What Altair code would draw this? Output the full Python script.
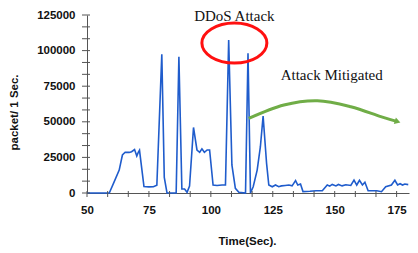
import altair as alt
import pandas as pd

# ---- main series (time in seconds, packets per second) ----
time_s = [50, 59, 61, 63, 64.3, 65.4, 67, 68, 69.2, 70.1, 70.7, 71.2, 73, 75, 76.8, 78.2,
          80.2, 81.2, 82.3, 86, 87.1, 88.3, 89.4, 90.4, 91.4, 93, 94.4, 95.5, 96.4, 97.4,
          98.5, 99.5, 100.9, 102.5, 104.5, 105.9, 107.2, 108.5, 109.9, 111.3, 114, 115,
          116, 117.1, 118.7, 120, 121.1, 122.5, 123.4, 124.8, 126.1, 127.4, 128.5, 130,
          131.5, 132.8, 134.2, 135.1, 136.2, 137.2, 140, 142.5, 145, 147, 148, 149, 150.5,
          151.5, 153, 154.5, 156.5, 157.8, 158.9, 160, 161.2, 162.2, 163.5, 167, 168.9,
          170.6, 172.9, 174.3, 175.4, 176.4, 177.4, 178.3, 179.7]
packets = [0, 0, 8000, 16100, 26700, 28600, 28500, 29000, 30500, 26000, 28500, 30000, 4500,
           4300, 4400, 5400, 97400, 11000, 0, 0, 95700, 2800, 2800, 500, 4900, 46000, 30200,
           28600, 31000, 28600, 30200, 30200, 5600, 5300, 5600, 5600, 107400, 19700, 3300,
           500, 0, 98100, 0, 4400, 16100, 32500, 54000, 20800, 5600, 4400, 5600, 4400, 5000,
           5300, 5600, 5000, 8700, 5600, 6300, 1000, 1200, 1600, 1600, 5600, 4800, 6000,
           5000, 6000, 5000, 5800, 5300, 9100, 5600, 8900, 5600, 7500, 1600, 1600, 900,
           4400, 5600, 8900, 5600, 6500, 5600, 6300, 5900]

# ---- axis ticks ----
x_ticks = [(150 + 25 * i) / 3 for i in range(16)]      # every 8.33 s, labels every 25
y_ticks = [25000 * i / 3 for i in range(16)]           # every 8333, labels every 25000

# ---- annotations (in data coordinates) ----
ann_text = ["DDoS Attack", "Attack Mitigated"]
ann_t = [109.5, 148.8]
ann_v = [121000, 79300]
ellipse_t = [109.5]
ellipse_v = [105300]
arrow_t = [115.3, 129.5, 143.0, 156.5, 168.6, 175.4]
arrow_v = [52400, 61800, 64800, 60600, 53600, 50100]

df = pd.DataFrame({"t": time_s, "v": packets})
df_txt = pd.DataFrame({"t": ann_t, "v": ann_v, "label": ann_text})
df_ell = pd.DataFrame({"t": ellipse_t, "v": ellipse_v})
df_arr = pd.DataFrame({"t": arrow_t, "v": arrow_v})
df_head = df_arr.tail(1)
df_xt = pd.DataFrame({"t": x_ticks})
df_yt = pd.DataFrame({"v": y_ticks})

FONT = "Liberation Sans"
H = 178

x_axis = alt.Axis(
    values=x_ticks, ticks=False,
    labelExpr="datum.value % 25 == 0 ? format(datum.value, 'd') : ''",
    title="Time(Sec).", titleFont=FONT, titleFontSize=11.5, titleFontWeight="bold",
    titleColor="#111", titleBaseline="alphabetic", titleX=160, titleY=51,
    labelFont=FONT, labelFontSize=11.5, labelFontWeight="bold", labelColor="#111",
    labelPadding=11, domainColor="#555", grid=False, labelFlush=False, labelOverlap=False,
)
y_axis = alt.Axis(
    values=y_ticks, ticks=False,
    labelExpr="datum.value % 25000 == 0 ? format(datum.value, 'd') : ''",
    title="packet/ 1 Sec.", titleFont=FONT, titleFontSize=11.5, titleFontWeight="bold",
    titleColor="#111", titleBaseline="alphabetic", titleAngle=270, titleAlign="center",
    titleX=-70, titleY=97,
    labelFont=FONT, labelFontSize=11.5, labelFontWeight="bold", labelColor="#111",
    labelPadding=12, domainColor="#555", grid=False, labelFlush=False, labelOverlap=False,
)

xs = alt.Scale(domain=[50, 180], nice=False, zero=False)
ys = alt.Scale(domain=[0, 125000], nice=False)

X = alt.X("t:Q", scale=xs, axis=x_axis)
Y = alt.Y("v:Q", scale=ys, axis=y_axis)

line = alt.Chart(df).mark_line(color="#1f5ccc", strokeWidth=1.6).encode(x=X, y=Y)

x_tick_marks = alt.Chart(df_xt).mark_rule(color="#555", strokeWidth=1).encode(
    x=X, y=alt.value(H - 2), y2=alt.value(H + 4)
)
y_tick_marks = alt.Chart(df_yt).mark_rule(color="#555", strokeWidth=1).encode(
    y=Y, x=alt.value(-5), x2=alt.value(3)
)

ellipse = alt.Chart(df_ell).mark_point(
    shape="M -1 0 A 1 0.615 0 1 1 1 0 A 1 0.615 0 1 1 -1 0 Z",
    size=4225, filled=False, stroke="#ff1010", strokeWidth=3, opacity=1,
).encode(x=X, y=Y)

arrow = alt.Chart(df_arr).mark_line(
    color="#70ad47", strokeWidth=3, interpolate="cardinal"
).encode(x=X, y=Y)

head = alt.Chart(df_head).mark_point(
    shape="triangle-right", filled=True, size=45, angle=18, color="#70ad47", opacity=1
).encode(x=X, y=Y)

texts = alt.Chart(df_txt).mark_text(
    font="Liberation Serif", fontSize=15, baseline="alphabetic", align="center", color="#111"
).encode(x=X, y=Y, text="label:N")

chart = alt.layer(line, x_tick_marks, y_tick_marks, ellipse, arrow, head, texts).properties(
    width=322, height=H,
    autosize=alt.AutoSizeParams(type="none"),
    padding={"left": 79, "top": 7, "right": 1, "bottom": 58},
    background="white",
).configure_view(stroke=None)

chart.save("out.html", embed_options={"renderer": "svg", "actions": False})
